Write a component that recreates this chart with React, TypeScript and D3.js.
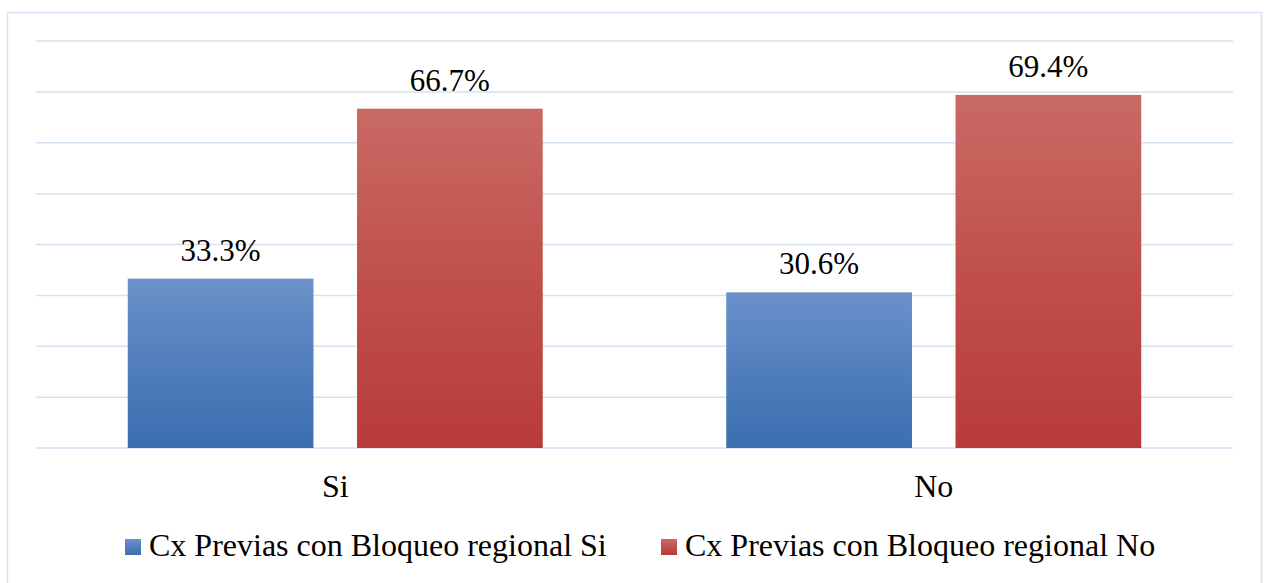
import React from "react";
import * as d3 from "d3";

const categories = ["Si", "No"];
const seriesNames = ["Cx Previas con Bloqueo regional Si", "Cx Previas con Bloqueo regional No"];
const valuesSi = [33.3, 30.6];
const valuesNo = [66.7, 69.4];
const yTicks = [0, 10, 20, 30, 40, 50, 60, 70, 80];

const W = 1264;
const H = 583;
const plotLeft = 36;
const plotRight = 1233;
const plotTop = 41;
const plotBottom = 448;

export default function App() {
  const series = [valuesSi, valuesNo];
  const x0 = d3.scaleBand<string>().domain(categories).range([plotLeft, plotRight]).padding(0);
  const groupW = 415;
  const x1 = d3
    .scaleBand<number>()
    .domain([0, 1])
    .range([-groupW / 2, groupW / 2])
    .paddingInner(0.19)
    .paddingOuter(0);
  const y = d3.scaleLinear().domain([0, 80]).range([plotBottom, plotTop]);
  const grads = [
    { id: "gBlue", top: "#6b91c9", bottom: "#3b6eb1" },
    { id: "gRed", top: "#c96a64", bottom: "#b83b39" },
  ];
  const legendSwatch = [
    { x: 125, textX: 149 },
    { x: 661, textX: 685 },
  ];

  return (
    <div style={{ position: "absolute", left: 0, top: 0, width: W, height: H, background: "#fff" }}>
      <svg width={W} height={H} style={{ display: "block" }}>
        <style>{`text.lbl { font-family: "Liberation Serif", serif; font-size: 31px; fill: #000; }
text.big { font-family: "Liberation Serif", serif; font-size: 32px; fill: #000; }`}</style>
        <defs>
          {grads.map((g) => (
            <linearGradient key={g.id} id={g.id} x1="0" y1="0" x2="0" y2="1">
              <stop offset="0%" stopColor={g.top} />
              <stop offset="50%" stopColor={d3.interpolateRgb(g.top, g.bottom)(0.55)} />
              <stop offset="100%" stopColor={g.bottom} />
            </linearGradient>
          ))}
        </defs>
        <rect x={7.5} y={12.5} width={1254} height={590} fill="#fff" stroke="#d5e3f4" strokeWidth={1.5} />
        {yTicks.map((t) => (
          <line key={t} x1={plotLeft} x2={plotRight} y1={y(t)} y2={y(t)} stroke="#d5e2f3" strokeWidth={1.5} />
        ))}
        {categories.map((c, ci) => {
          const cx = (x0(c) as number) + x0.bandwidth() / 2;
          return (
            <g key={c}>
              {series.map((vals, si) => {
                const bx = cx + (x1(si) as number);
                const bw = x1.bandwidth();
                const v = vals[ci];
                return (
                  <g key={si}>
                    <rect x={bx} y={y(v)} width={bw} height={y(0) - y(v)} fill={`url(#${grads[si].id})`} />
                    <text className="lbl" x={bx + bw / 2} y={y(v) - 18} textAnchor="middle">
                      {v.toFixed(1)}%
                    </text>
                  </g>
                );
              })}
              <text className="big" x={cx} y={497} textAnchor="middle">
                {c}
              </text>
            </g>
          );
        })}
        {seriesNames.map((n, i) => (
          <g key={n}>
            <rect x={legendSwatch[i].x} y={539} width={16} height={16} fill={`url(#${grads[i].id})`} />
            <text className="big" x={legendSwatch[i].textX} y={556}>
              {n}
            </text>
          </g>
        ))}
      </svg>
    </div>
  );
}
